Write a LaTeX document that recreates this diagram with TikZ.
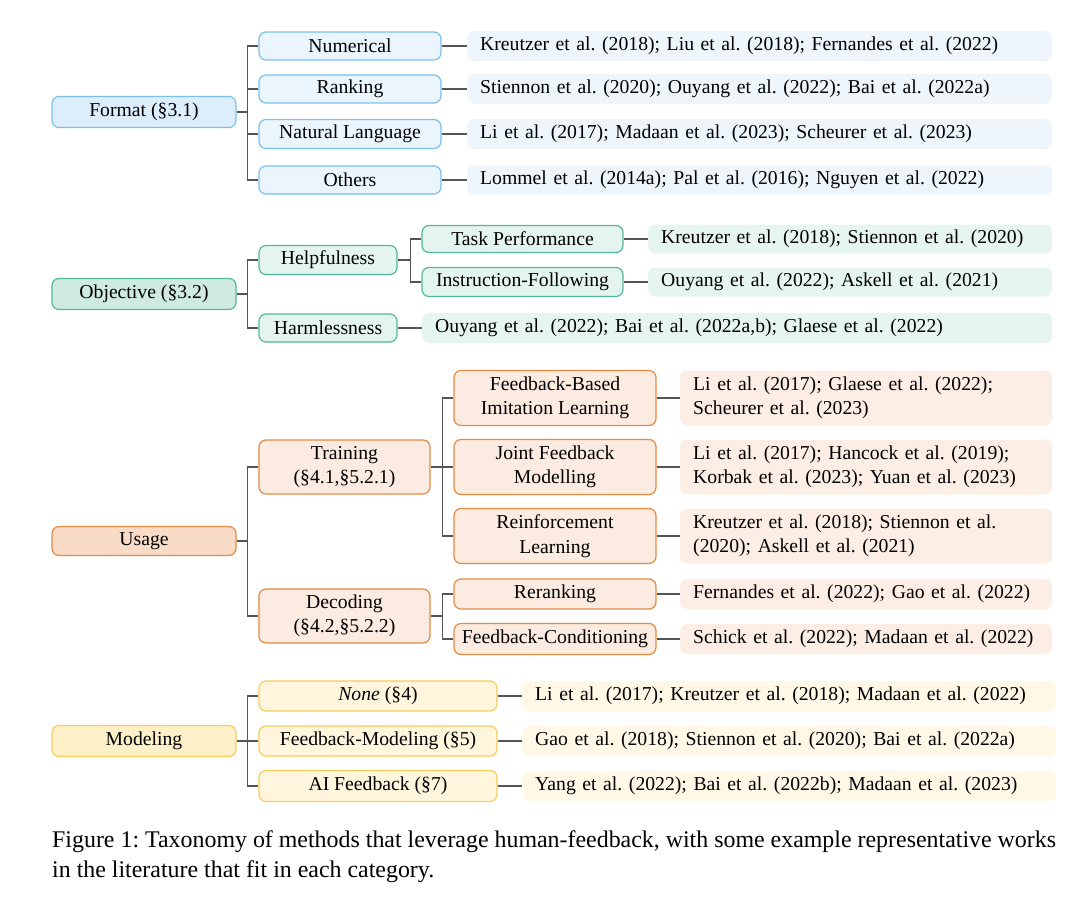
\documentclass[tikz,border=0pt]{standalone}
\usepackage{fontspec}
\setmainfont{Liberation Serif}
\frenchspacing
\definecolor{bB}{HTML}{7DC0EC}\definecolor{bR}{HTML}{DCEEFB}\definecolor{bC}{HTML}{EAF5FD}\definecolor{bF}{HTML}{EEF6FC}
\definecolor{gB}{HTML}{52B89B}\definecolor{gR}{HTML}{CFEBE1}\definecolor{gC}{HTML}{E4F4EE}\definecolor{gF}{HTML}{E6F5EF}
\definecolor{oB}{HTML}{E58A43}\definecolor{oR}{HTML}{F8DCC8}\definecolor{oC}{HTML}{FCEBE0}\definecolor{oF}{HTML}{FDEEE5}
\definecolor{yB}{HTML}{F4CD5A}\definecolor{yR}{HTML}{FDF0C9}\definecolor{yC}{HTML}{FFF6DD}\definecolor{yF}{HTML}{FFF8E6}
\definecolor{lnc}{HTML}{555555}
\begin{document}
\begin{tikzpicture}[x=1pt,y=-1pt,
  every node/.style={font=\fontsize{19.7}{24.5}\selectfont},
  tbox/.style={draw, rounded corners=7pt, line width=1.2pt, align=center, inner sep=0pt},
  rbox/.style={rounded corners=7pt, anchor=west, align=left, inner xsep=13pt, inner ysep=0pt},
  lnk/.style={draw=lnc, line width=1.1pt}]
\useasboundingbox (0,0) rectangle (1080,905);
% ---------- Format
\node[tbox, draw=bB, fill=bR, minimum width=184, minimum height=31] (fmt) at (144,112) {Format (§3.1)};
\node[tbox, draw=bB, fill=bC, minimum width=182, minimum height=28] (num) at (350,46) {Numerical};
\node[tbox, draw=bB, fill=bC, minimum width=182, minimum height=28] (rank) at (350,89) {Ranking};
\node[tbox, draw=bB, fill=bC, minimum width=182, minimum height=29] (nl) at (350,134) {Natural Language};
\node[tbox, draw=bB, fill=bC, minimum width=182, minimum height=28] (oth) at (350,180) {Others};
\node[rbox, fill=bF, text width=559, minimum height=30] (rnum) at (467,46) {Kreutzer et al. (2018); Liu et al. (2018); Fernandes et al. (2022)};
\node[rbox, fill=bF, text width=559, minimum height=30] (rrank) at (467,89) {Stiennon et al. (2020); Ouyang et al. (2022); Bai et al. (2022a)};
\node[rbox, fill=bF, text width=559, minimum height=30] (rnl) at (467,134) {Li et al. (2017); Madaan et al. (2023); Scheurer et al. (2023)};
\node[rbox, fill=bF, text width=559, minimum height=30] (roth) at (467,180) {Lommel et al. (2014a); Pal et al. (2016); Nguyen et al. (2022)};
\foreach \c in {num,rank,nl,oth} \draw[lnk] (fmt.east) -- +(11,0) |- (\c.west);
\draw[lnk] (num) -- (rnum); \draw[lnk] (rank) -- (rrank); \draw[lnk] (nl) -- (rnl); \draw[lnk] (oth) -- (roth);
% ---------- Objective
\node[tbox, draw=gB, fill=gR, minimum width=184, minimum height=31] (obj) at (144,294) {Objective (§3.2)};
\node[tbox, draw=gB, fill=gC, minimum width=138, minimum height=29] (help) at (328,260) {Helpfulness};
\node[tbox, draw=gB, fill=gC, minimum width=138, minimum height=28] (harm) at (328,328) {Harmlessness};
\node[tbox, draw=gB, fill=gC, minimum width=201, minimum height=27] (task) at (522.5,239) {Task Performance};
\node[tbox, draw=gB, fill=gC, minimum width=201, minimum height=29] (instr) at (522.5,282) {Instruction-Following};
\node[rbox, fill=gF, text width=378, minimum height=29] (rtask) at (648,239) {Kreutzer et al. (2018); Stiennon et al. (2020)};
\node[rbox, fill=gF, text width=378, minimum height=29] (rinstr) at (648,282) {Ouyang et al. (2022); Askell et al. (2021)};
\node[rbox, fill=gF, text width=604, minimum height=30] (rharm) at (422,328) {Ouyang et al. (2022); Bai et al. (2022a,b); Glaese et al. (2022)};
\foreach \c in {help,harm} \draw[lnk] (obj.east) -- +(11,0) |- (\c.west);
\foreach \c in {task,instr} \draw[lnk] (help.east) -- +(13,0) |- (\c.west);
\draw[lnk] (task) -- (rtask); \draw[lnk] (instr) -- (rinstr); \draw[lnk] (harm) -- (rharm);
% ---------- Usage
\node[tbox, draw=oB, fill=oR, minimum width=184, minimum height=29] (use) at (144,541) {Usage};
\node[tbox, draw=oB, fill=oC, minimum width=171, minimum height=54] (train) at (344.5,467) {Training\\(§4.1,§5.2.1)};
\node[tbox, draw=oB, fill=oC, minimum width=171, minimum height=54] (dec) at (344.5,616) {Decoding\\(§4.2,§5.2.2)};
\node[tbox, draw=oB, fill=oC, minimum width=202, minimum height=55] (fbil) at (555,398) {Feedback-Based\\Imitation Learning};
\node[tbox, draw=oB, fill=oC, minimum width=202, minimum height=55] (jfm) at (555,467) {Joint Feedback\\Modelling};
\node[tbox, draw=oB, fill=oC, minimum width=202, minimum height=55] (rl) at (555,536) {Reinforcement\\Learning};
\node[tbox, draw=oB, fill=oC, minimum width=202, minimum height=30] (rer) at (555,594) {Reranking};
\node[tbox, draw=oB, fill=oC, minimum width=202, minimum height=31] (fc) at (555,639) {Feedback-Conditioning};
\node[rbox, fill=oF, text width=346, minimum height=55] (rfbil) at (680,398) {Li et al. (2017); Glaese et al. (2022);\\Scheurer et al. (2023)};
\node[rbox, fill=oF, text width=346, minimum height=55] (rjfm) at (680,467) {Li et al. (2017); Hancock et al. (2019);\\Korbak et al. (2023); Yuan et al. (2023)};
\node[rbox, fill=oF, text width=346, minimum height=55] (rrl) at (680,536) {Kreutzer et al. (2018); Stiennon et al.\\(2020); Askell et al. (2021)};
\node[rbox, fill=oF, text width=346, minimum height=30] (rrer) at (680,594) {Fernandes et al. (2022); Gao et al. (2022)};
\node[rbox, fill=oF, text width=346, minimum height=30] (rfc) at (680,639) {Schick et al. (2022); Madaan et al. (2022)};
\foreach \c in {train,dec} \draw[lnk] (use.east) -- +(11,0) |- (\c.west);
\foreach \c in {fbil,jfm,rl} \draw[lnk] (train.east) -- +(12,0) |- (\c.west);
\foreach \c in {rer,fc} \draw[lnk] (dec.east) -- +(12,0) |- (\c.west);
\draw[lnk] (fbil) -- (rfbil); \draw[lnk] (jfm) -- (rjfm); \draw[lnk] (rl) -- (rrl);
\draw[lnk] (rer) -- (rrer); \draw[lnk] (fc) -- (rfc);
% ---------- Modeling
\node[tbox, draw=yB, fill=yR, minimum width=184, minimum height=31] (mod) at (144,741) {Modeling};
\node[tbox, draw=yB, fill=yC, minimum width=238, minimum height=30] (none) at (378,696) {\textit{None} (§4)};
\node[tbox, draw=yB, fill=yC, minimum width=238, minimum height=30] (fbm) at (378,741) {Feedback-Modeling (§5)};
\node[tbox, draw=yB, fill=yC, minimum width=238, minimum height=31] (aif) at (378,786) {AI Feedback (§7)};
\node[rbox, fill=yF, text width=508, minimum height=30] (rnone) at (522,696) {Li et al. (2017); Kreutzer et al. (2018); Madaan et al. (2022)};
\node[rbox, fill=yF, text width=508, minimum height=30] (rfbm) at (522,741) {Gao et al. (2018); Stiennon et al. (2020); Bai et al. (2022a)};
\node[rbox, fill=yF, text width=508, minimum height=30] (raif) at (522,786) {Yang et al. (2022); Bai et al. (2022b); Madaan et al. (2023)};
\foreach \c in {none,fbm,aif} \draw[lnk] (mod.east) -- +(11,0) |- (\c.west);
\draw[lnk] (none) -- (rnone); \draw[lnk] (fbm) -- (rfbm); \draw[lnk] (aif) -- (raif);
% ---------- Caption
\node[anchor=north west, align=left, inner sep=0pt, font=\fontsize{23.9}{30}\selectfont] (cap) at (52,830)
  {Figure 1: Taxonomy of methods that leverage human-feedback, with some example representative works\\in the literature that fit in each category.};
\end{tikzpicture}
\end{document}
